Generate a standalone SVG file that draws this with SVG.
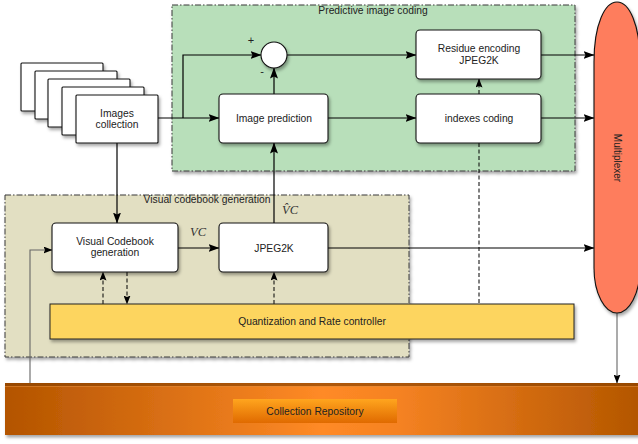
<svg xmlns="http://www.w3.org/2000/svg" width="638" height="444" viewBox="0 0 638 444">
<defs>
<filter id="sh" x="-10%" y="-10%" width="130%" height="140%">
<feDropShadow dx="1.5" dy="2.5" stdDeviation="1.5" flood-color="#000" flood-opacity="0.35"/>
</filter>
<marker id="ar" markerUnits="userSpaceOnUse" markerWidth="11" markerHeight="8" refX="10.5" refY="4" orient="auto">
<path d="M0,0 L11,4 L0,8 L2,4 Z" fill="#000"/>
</marker>
<marker id="ars" markerUnits="userSpaceOnUse" markerWidth="9" markerHeight="7" refX="8.5" refY="3.5" orient="auto">
<path d="M0,0 L9,3.5 L0,7 L1.5,3.5 Z" fill="#000"/>
</marker>
<linearGradient id="repo" x1="0" y1="0" x2="1" y2="0">
<stop offset="0" stop-color="#b35400"/>
<stop offset="0.5" stop-color="#ff8a26"/>
<stop offset="0.62" stop-color="#f58222"/>
<stop offset="1" stop-color="#b35600"/>
</linearGradient>
<linearGradient id="repin" x1="0" y1="0" x2="0" y2="1">
<stop offset="0" stop-color="#ffa51e"/>
<stop offset="1" stop-color="#e06a00"/>
</linearGradient>
</defs>
<style>
text{font-family:"Liberation Sans",Arial,sans-serif;font-size:10.3px;fill:#222;text-anchor:middle}
.box{fill:#fff;stroke:#111;stroke-width:1.1;filter:url(#sh)}
.cont{stroke:#3a3a3a;stroke-width:1;stroke-dasharray:6 2 1.5 2;filter:url(#sh)}
.c{fill:none;stroke:#000;stroke-width:1.2}
.d{fill:none;stroke:#000;stroke-width:1;stroke-dasharray:4 2.5}
.g{fill:none;stroke:#666;stroke-width:1.1}
.m{font-family:"Liberation Serif","Times New Roman",serif;font-style:italic;font-size:12.5px;fill:#333}
</style>

<g id="predictive-image-coding">
<rect class="cont" x="172" y="5" width="403" height="166" fill="#b8dfba"/>
<text x="373" y="14">Predictive image coding</text>
</g>
<g id="visual-codebook-generation-area">
<rect class="cont" x="5" y="195" width="404" height="162" fill="#e2dfc2"/>
<text x="207" y="203">Visual codebook generation</text>
</g>

<g id="connectors">
<path class="c" d="M158,118 H219" marker-end="url(#ar)"/>
<path class="c" d="M183,118 V55 H261" marker-end="url(#ar)"/>
<path class="c" d="M274,94 V68" marker-end="url(#ar)"/>
<path class="c" d="M287,55 H416" marker-end="url(#ar)"/>
<path class="c" d="M328,118 H416" marker-end="url(#ar)"/>
<path class="d" d="M479,94 V79" marker-end="url(#ars)"/>
<path class="c" d="M541,55 H594" marker-end="url(#ar)"/>
<path class="c" d="M541,118 H594" marker-end="url(#ar)"/>
<path class="c" d="M117,143 V223" marker-end="url(#ar)"/>
<path class="c" d="M178,248 H219" marker-end="url(#ar)"/>
<path class="c" d="M274,223 V143" marker-end="url(#ar)"/>
<path class="c" d="M328,248 H594" marker-end="url(#ar)"/>
<path class="d" d="M103,304 V272" marker-end="url(#ars)"/>
<path class="d" d="M127,272 V304" marker-end="url(#ars)"/>
<path class="d" d="M274,304 V272" marker-end="url(#ars)"/>
<path class="d" d="M479,143 V304"/>
<path class="g" d="M30,383 V250 H52" marker-end="url(#ars)"/>
<path class="g" d="M617,313 V383" marker-end="url(#ars)"/>
<text class="m" x="198" y="236">VC</text>
<text class="m" x="290" y="214">V̂C</text>
<text x="251" y="44" style="font-size:11px">+</text>
<text x="262" y="75" style="font-size:11px">-</text>
</g>

<g id="images-collection">
<rect class="box" x="21" y="63" width="82" height="48" rx="1"/>
<rect class="box" x="35" y="71" width="82" height="48" rx="1"/>
<rect class="box" x="48" y="79" width="82" height="48" rx="1"/>
<rect class="box" x="62" y="87" width="82" height="48" rx="1"/>
<rect class="box" x="76" y="95" width="82" height="48" rx="1"/>
<text x="117" y="117">Images</text>
<text x="117" y="128">collection</text>
</g>

<g id="sum">
<circle class="box" cx="274" cy="55" r="13"/>
</g>

<g id="image-prediction">
<rect class="box" x="219" y="94" width="109" height="49" rx="4"/>
<text x="274" y="122">Image prediction</text>
</g>

<g id="residue-encoding">
<rect class="box" x="416" y="30" width="125" height="49" rx="4"/>
<text x="479" y="52">Residue encoding</text>
<text x="479" y="64">JPEG2K</text>
</g>

<g id="indexes-coding">
<rect class="box" x="416" y="94" width="125" height="49" rx="4"/>
<text x="479" y="122">indexes coding</text>
</g>

<g id="visual-codebook-generation">
<rect class="box" x="52" y="223" width="126" height="49" rx="4"/>
<text x="115" y="245">Visual Codebook</text>
<text x="115" y="256">generation</text>
</g>

<g id="jpeg2k">
<rect class="box" x="219" y="223" width="109" height="49" rx="4"/>
<text x="274" y="252">JPEG2K</text>
</g>

<g id="quantization">
<rect x="50" y="304" width="524" height="35" fill="#fdd55f" stroke="#222" stroke-width="1" filter="url(#sh)"/>
<text x="312" y="325">Quantization and Rate controller</text>
</g>

<g id="multiplexer">
<path d="M594,62 C594,24 605,2 617,2 C629,2 640,24 640,62 L640,268 C640,294 629,313 617,313 C605,313 594,294 594,268 Z" fill="#fe7d5d" stroke="#111" stroke-width="1.1" filter="url(#sh)"/>
<text x="0" y="0" transform="translate(614,158) rotate(90)" style="font-size:10px">Multiplexer</text>
</g>

<g id="collection-repository">
<rect x="5" y="383" width="635" height="52" fill="url(#repo)" filter="url(#sh)"/>
<rect x="5" y="383" width="635" height="3" fill="#8c4300" opacity="0.7"/>
<rect x="5" y="386" width="635" height="1" fill="#e08a3a" opacity="0.6"/>
<rect x="233" y="399" width="164" height="24" fill="url(#repin)"/>
<text x="315" y="415">Collection Repository</text>
</g>
</svg>
